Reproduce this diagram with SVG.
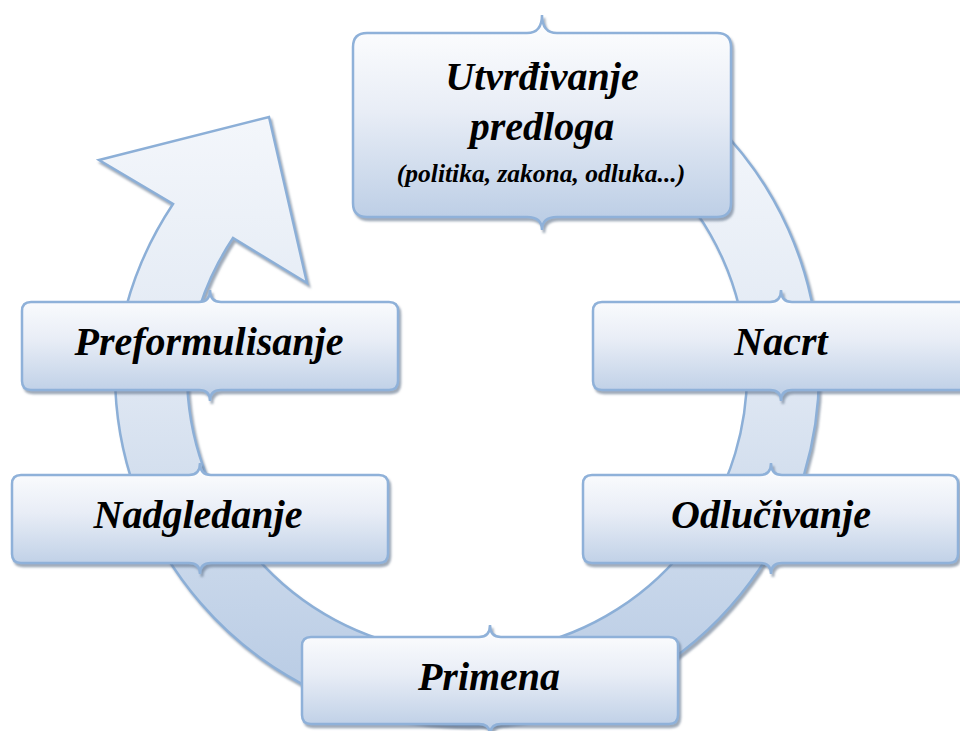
<svg xmlns="http://www.w3.org/2000/svg" width="960" height="731" viewBox="0 0 960 731">
  <defs>
    <linearGradient id="ringFill" gradientUnits="userSpaceOnUse" x1="0" y1="20" x2="0" y2="725">
      <stop offset="0" stop-color="#fbfcfe"/>
      <stop offset="0.5" stop-color="#e0e8f3"/>
      <stop offset="1" stop-color="#b5c9e3"/>
    </linearGradient>
    <linearGradient id="boxFill" x1="0" y1="0" x2="0" y2="1">
      <stop offset="0" stop-color="#ffffff"/>
      <stop offset="0.45" stop-color="#e8edf6"/>
      <stop offset="1" stop-color="#b8cbe4"/>
    </linearGradient>
    <filter id="shadow" x="-5%" y="-5%" width="110%" height="115%">
      <feDropShadow dx="2" dy="3" stdDeviation="0.9" flood-color="#5f7089" flood-opacity="0.6"/>
    </filter>
  </defs>
  <style>
    .box { fill: url(#boxFill); stroke: #8fb1d9; stroke-width: 2.5; filter: url(#shadow); }
    .ring { fill: url(#ringFill); stroke: #8cafd7; stroke-width: 2.5; stroke-linejoin: miter; filter: url(#shadow); }
    .lbl { font-family: "Liberation Serif", "Times New Roman", serif; font-weight: bold; font-style: italic; font-size: 40px; fill: #000000; text-anchor: middle; }
    .sub { font-size: 25.5px; }
  </style>

  <g id="connectors">
    <path class="ring" d="M 615.8 54 A 352 352 0 1 1 115 373 A 352 352 0 0 1 173 204 L 99 160 L 269 117 L 307 283 L 233 238 A 280 280 0 0 0 187 373 A 280 280 0 1 0 585.3 119.2 Z"/>
  </g>

  <g id="node-utvrdjivanje">
    <path class="box" d="M 367 33 L 527 33 Q 542 33 542 15 Q 542 33 557 33 L 717 33 Q 731 33 731 47 L 731 203 Q 731 217 717 217 L 557 217 Q 542 217 542 230 Q 542 217 527 217 L 367 217 Q 353 217 353 203 L 353 47 Q 353 33 367 33 Z"/>
    <text class="lbl" x="542" y="90">Utvrđivanje</text>
    <text class="lbl" x="542" y="140">predloga</text>
    <text class="lbl sub" x="541" y="182">(politika, zakona, odluka...)</text>
  </g>

  <g id="node-preformulisanje">
    <path class="box" d="M 31 302 L 199 302 Q 210 302 210 290 Q 210 302 221 302 L 389 302 Q 398 302 398 311 L 398 381 Q 398 390 389 390 L 221 390 Q 210 390 210 401 Q 210 390 199 390 L 31 390 Q 22 390 22 381 L 22 311 Q 22 302 31 302 Z"/>
    <text class="lbl" x="209" y="355">Preformulisanje</text>
  </g>

  <g id="node-nacrt">
    <path class="box" d="M 602 302 L 770 302 Q 781 302 781 290 Q 781 302 792 302 L 960 302 Q 969 302 969 311 L 969 381 Q 969 390 960 390 L 792 390 Q 781 390 781 401 Q 781 390 770 390 L 602 390 Q 593 390 593 381 L 593 311 Q 593 302 602 302 Z"/>
    <text class="lbl" x="781" y="355">Nacrt</text>
  </g>

  <g id="node-odlucivanje">
    <path class="box" d="M 592 475 L 760 475 Q 771 475 771 463 Q 771 475 782 475 L 949 475 Q 958 475 958 484 L 958 554 Q 958 563 949 563 L 782 563 Q 771 563 771 574 Q 771 563 760 563 L 592 563 Q 583 563 583 554 L 583 484 Q 583 475 592 475 Z"/>
    <text class="lbl" x="771" y="528">Odlučivanje</text>
  </g>

  <g id="node-nadgledanje">
    <path class="box" d="M 21 475 L 189 475 Q 200 475 200 463 Q 200 475 211 475 L 379 475 Q 388 475 388 484 L 388 554 Q 388 563 379 563 L 211 563 Q 200 563 200 574 Q 200 563 189 563 L 21 563 Q 12 563 12 554 L 12 484 Q 12 475 21 475 Z"/>
    <text class="lbl" x="198" y="528">Nadgledanje</text>
  </g>

  <g id="node-primena">
    <path class="box" d="M 311 637 L 479 637 Q 490 637 490 625 Q 490 637 501 637 L 669 637 Q 678 637 678 646 L 678 715 Q 678 724 669 724 L 501 724 Q 490 724 490 735 Q 490 724 479 724 L 311 724 Q 302 724 302 715 L 302 646 Q 302 637 311 637 Z"/>
    <text class="lbl" x="489" y="690">Primena</text>
  </g>
</svg>
